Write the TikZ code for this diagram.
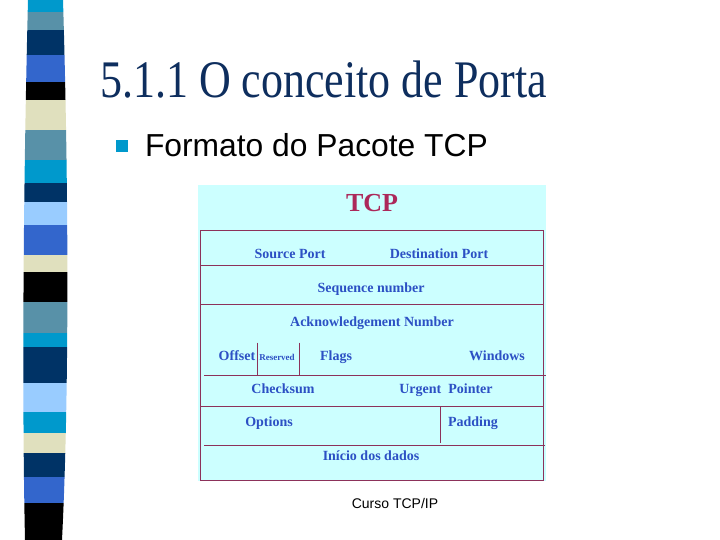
\documentclass[tikz,border=0pt]{standalone}
\usepackage{fontspec}
\setmainfont{Liberation Serif}
\setsansfont{Liberation Sans}
\definecolor{stcyan}{RGB}{0,153,204}
\definecolor{stgrey}{RGB}{88,145,168}
\definecolor{stnavy}{RGB}{0,51,102}
\definecolor{stroyal}{RGB}{51,102,204}
\definecolor{stbeige}{RGB}{224,224,190}
\definecolor{stlight}{RGB}{153,204,255}
\definecolor{titlenavy}{RGB}{14,46,94}
\definecolor{tcpbg}{RGB}{204,255,255}
\definecolor{tcpred}{RGB}{172,40,90}
\definecolor{framered}{RGB}{140,50,90}
\definecolor{fieldblue}{RGB}{44,80,196}
\tikzset{
  frameline/.style={draw=framered,line width=0.9pt},
  fieldtext/.style={inner sep=0pt,outer sep=0pt,anchor=base,text=fieldblue,font=\bfseries\fontsize{14}{16}\selectfont},
  smallfield/.style={fieldtext,font=\bfseries\fontsize{9}{11}\selectfont}
}
\begin{document}
\begin{tikzpicture}[x=1pt,y=-1pt]
\path[use as bounding box,fill=white] (0,0) rectangle (720,540);
% striped bar on the left
\begin{scope}
\clip (28,0) .. controls (23,200) and (22,400) .. (25,540) -- (62,540) .. controls (69,400) and (69,200) .. (63,0) -- cycle;
\foreach \ya/\yb/\col in {0/12/stcyan,12/30/stgrey,30/55/stnavy,55/82/stroyal,82/100/black,100/130/stbeige,130/160/stgrey,160/183/stcyan,183/202/stnavy,202/225/stlight,225/255/stroyal,255/272/stbeige,272/302/black,302/333/stgrey,333/347/stcyan,347/383/stnavy,383/412/stlight,412/433/stcyan,433/453/stbeige,453/477/stnavy,477/503/stroyal,503/540/black}
  \fill[\col] (0,\ya) rectangle (100,\yb);
\end{scope}
% heading
\node[inner sep=0pt,outer sep=0pt,anchor=base west,text=titlenavy,font=\fontsize{44}{52}\selectfont] (title) at (100,98) {\scalebox{1}[1.2]{5.1.1 O conceito de Porta}};
\node[fill=stcyan,inner sep=0pt,minimum size=12pt] (bullet) at (122,146) {};
\node[inner sep=0pt,outer sep=0pt,anchor=base west,font=\sffamily\fontsize{31.8}{38}\selectfont] (subtitle) at (145,157) {Formato do Pacote TCP};
% TCP header picture
\fill[tcpbg] (198,185) rectangle (546,481);
\node[inner sep=0pt,outer sep=0pt,anchor=base,text=tcpred,font=\bfseries\fontsize{26}{30}\selectfont] (tcp) at (372,211.5) {TCP};
\draw[frameline] (200.5,230) rectangle (543,480);
\draw[frameline] (200.5,265) -- (543,265);
\draw[frameline] (200.5,304) -- (543,304);
\draw[frameline] (204,375) -- (546,375);
\draw[frameline] (200.5,406) -- (543,406);
\draw[frameline] (204,445) -- (545,445);
\draw[frameline] (257.3,342.7) -- (257.3,375);
\draw[frameline] (299.3,342.7) -- (299.3,375);
\draw[frameline] (440.7,406) -- (440.7,442.7);
\node[fieldtext] (srcport) at (290,258.3) {Source Port};
\node[fieldtext] (dstport) at (439,258.3) {Destination Port};
\node[fieldtext] (seqnum) at (371,292.3) {Sequence number};
\node[fieldtext] (acknum) at (372,326.7) {Acknowledgement Number};
\node[fieldtext] (offset) at (237,360.7) {Offset};
\node[smallfield] (reserved) at (277,360.7) {Reserved};
\node[fieldtext] (flags) at (336,360.7) {Flags};
\node[fieldtext] (windows) at (497,360.7) {Windows};
\node[fieldtext] (checksum) at (283,393.3) {Checksum};
\node[fieldtext] (urgent) at (446,393.3) {Urgent\ \ Pointer};
\node[fieldtext] (options) at (269,426.7) {Options};
\node[fieldtext] (padding) at (473,426.7) {Padding};
\node[fieldtext] (dados) at (371,460.7) {Início dos dados};
% footer
\node[inner sep=0pt,outer sep=0pt,anchor=base,font=\sffamily\fontsize{14}{17}\selectfont] (footer) at (395,508) {Curso TCP/IP};
\end{tikzpicture}
\end{document}
